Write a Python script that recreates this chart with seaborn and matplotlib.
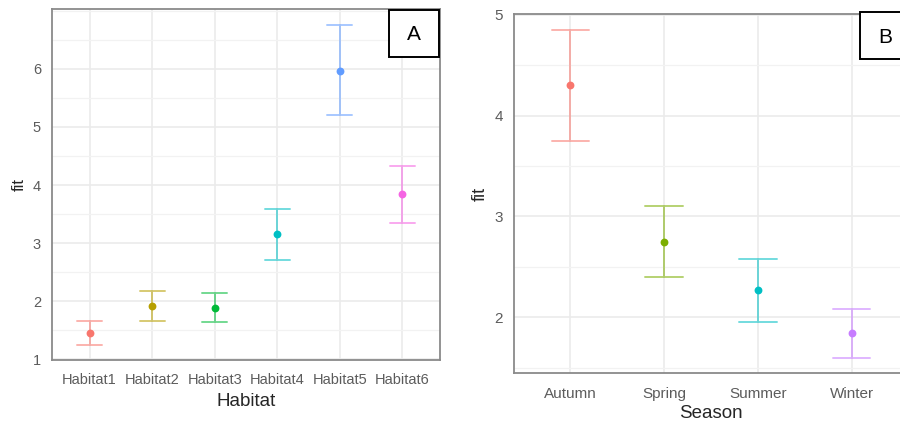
import matplotlib.pyplot as plt
import matplotlib.patches as mpatches
import pandas as pd
import seaborn as sns
from matplotlib.ticker import MultipleLocator

# Panel A: fitted values by habitat
habitats = ["Habitat1", "Habitat2", "Habitat3", "Habitat4", "Habitat5", "Habitat6"]
habitat_fit = [1.46, 1.92, 1.89, 3.15, 5.97, 3.85]
habitat_lower = [1.24, 1.66, 1.64, 2.71, 5.20, 3.35]
habitat_upper = [1.66, 2.17, 2.15, 3.59, 6.75, 4.33]
habitat_colors = ["#F8766D", "#B79F00", "#00BA38", "#00BFC4", "#619CFF", "#F564E3"]

# Panel B: fitted values by season
seasons = ["Autumn", "Spring", "Summer", "Winter"]
season_fit = [4.30, 2.75, 2.27, 1.84]
season_lower = [3.75, 2.40, 1.95, 1.60]
season_upper = [4.85, 3.105, 2.58, 2.08]
season_colors = ["#F8766D", "#7CAE00", "#00BFC4", "#C77CFF"]

sns.set_style("white")
plt.rcParams["font.family"] = ["Liberation Sans", "DejaVu Sans"]


def draw_panel(ax, cats, fit, lower, upper, colors, xlabel, ylim, yticks,
               tick_size, label_size, ylabel_size, xpad, ypad, xlabelpad):
    # long form: lower / fit / upper per category; median picks the fit,
    # min-max gives the interval
    df = pd.DataFrame({
        "cat": cats * 3,
        "value": lower + fit + upper,
    })
    sns.pointplot(
        data=df, x="cat", y="value", hue="cat",
        order=cats, hue_order=cats, palette=colors,
        estimator="median",
        errorbar=lambda v: (v.min(), v.max()),
        capsize=0.4, linestyle="none", marker="o", markersize=3.6,
        err_kws={"linewidth": 1.4, "alpha": 0.55},
        legend=False, ax=ax,
    )

    ax.set_xlim(-0.6, len(cats) - 0.4)
    ax.set_ylim(*ylim)
    ax.set_yticks(yticks)
    ax.yaxis.set_minor_locator(MultipleLocator(0.5))
    ax.set_axisbelow(True)
    ax.grid(which="major", color="#ebebeb", linewidth=1.2)
    ax.grid(which="minor", axis="y", color="#f2f2f2", linewidth=0.9)
    ax.tick_params(which="minor", length=0)

    for spine in ax.spines.values():
        spine.set_color("#8a8a8a")
        spine.set_linewidth(1.3)
    ax.tick_params(which="major", direction="out", length=3.5, width=0.9,
                   color="#555555", labelcolor="#5c5c5c",
                   labelsize=tick_size)
    ax.tick_params(axis="x", pad=xpad)
    ax.tick_params(axis="y", pad=ypad)

    ax.set_xlabel(xlabel, fontsize=label_size, color="#262626", labelpad=xlabelpad)
    ax.set_ylabel("fit", fontsize=ylabel_size, color="#262626", labelpad=4)


fig = plt.figure(figsize=(9, 4.23), dpi=100)

ax_a = fig.add_axes([0.0578, 0.1489, 0.4311, 0.8298])
draw_panel(ax_a, habitats, habitat_fit, habitat_lower, habitat_upper,
           habitat_colors, "Habitat", (0.99, 7.03), [1, 2, 3, 4, 5, 6],
           10.5, 13.5, 12, 6, 4.5, 4)

ax_b = fig.add_axes([0.5714, 0.1189, 0.4374, 0.8473])
draw_panel(ax_b, seasons, season_fit, season_lower, season_upper,
           season_colors, "Season", (1.45, 5.004), [2, 3, 4, 5],
           11, 13.5, 13, 7, 4.5, 3)

# panel letters in boxes
for x0, y0, w, h, tx, ty, letter in [
    (0.4322, 0.8641, 0.0552, 0.1123, 0.4598, 0.9196, "A"),
    (0.9556, 0.8605, 0.0600, 0.1110, 0.9833, 0.9125, "B"),
]:
    fig.add_artist(mpatches.Rectangle((x0, y0), w, h, transform=fig.transFigure,
                                      facecolor="white", edgecolor="black",
                                      linewidth=1.4))
    fig.text(tx, ty, letter, fontsize=15, ha="center", va="center", color="black")

fig.savefig("out.png", dpi=100)
